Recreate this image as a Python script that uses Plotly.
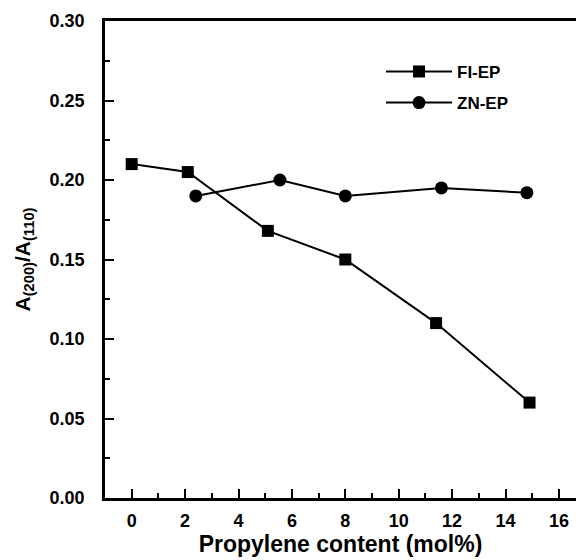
import plotly.graph_objects as go

fi_x = [0, 2.1, 5.1, 8.0, 11.4, 14.9]
fi_y = [0.21, 0.205, 0.168, 0.15, 0.11, 0.06]
zn_x = [2.4, 5.55, 8.0, 11.6, 14.8]
zn_y = [0.19, 0.20, 0.19, 0.195, 0.192]

x_ticks = [0, 2, 4, 6, 8, 10, 12, 14, 16]
y_ticks = [0.00, 0.05, 0.10, 0.15, 0.20, 0.25, 0.30]

FONT = "Liberation Sans, Arial, sans-serif"

fig = go.Figure()
fig.add_trace(go.Scatter(x=fi_x, y=fi_y, mode="lines+markers", name="FI-EP", legendgroup="fi",
                         line=dict(color="black", width=2),
                         marker=dict(symbol="square", size=12, color="black")))
fig.add_trace(go.Scatter(x=zn_x, y=zn_y, mode="lines+markers", name="ZN-EP", legendgroup="zn",
                         line=dict(color="black", width=2),
                         marker=dict(symbol="circle", size=13, color="black")))

fig.update_layout(
    width=576, height=560,
    margin=dict(l=105, r=0, t=21, b=62),
    paper_bgcolor="white", plot_bgcolor="white",
    font=dict(family=FONT, color="black"),
    showlegend=True,
    legend=dict(x=0.586, y=0.931, xanchor="left", yanchor="top",
                itemwidth=66, bgcolor="rgba(0,0,0,0)",
                font=dict(size=17, family=FONT, weight="bold"),
                tracegroupgap=6),
)
fig.update_xaxes(
    range=[-1, 16.64], tickvals=x_ticks, ticktext=[str(v) for v in x_ticks],
    showgrid=False, zeroline=False, automargin=False,
    showline=True, linecolor="black", linewidth=2.5, mirror=True,
    ticks="inside", ticklen=9, tickwidth=2, tickcolor="black",
    minor=dict(ticks="inside", ticklen=5, tickwidth=2, tickcolor="black", dtick=1, tick0=1, showgrid=False),
    tickfont=dict(size=18, family=FONT, weight="bold"),
    ticklabelstandoff=5,
    title=dict(text="<b>Propylene content (mol%)</b>", font=dict(size=23, family=FONT), standoff=6),
)
fig.update_yaxes(
    range=[0, 0.30], tickvals=y_ticks, ticktext=[f"{v:.2f}" for v in y_ticks],
    showgrid=False, zeroline=False, automargin=False,
    showline=True, linecolor="black", linewidth=2.5, mirror=False,
    ticks="inside", ticklen=9, tickwidth=2, tickcolor="black",
    minor=dict(ticks="inside", ticklen=5, tickwidth=2, tickcolor="black", dtick=0.025, tick0=0.025, showgrid=False),
    tickfont=dict(size=18, family=FONT, weight="bold"),
    ticklabelstandoff=14,
    title=dict(text="<b>A<sub>(200)</sub>/A<sub>(110)</sub></b>",
               font=dict(size=21, family=FONT), standoff=14),
)

fig.write_html("out.html", config={"displayModeBar": False},
               post_script="document.body.style.margin='0';")
